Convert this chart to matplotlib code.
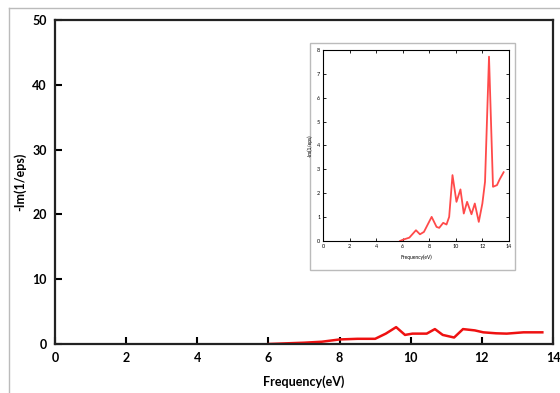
import numpy as np
import matplotlib.pyplot as plt
from matplotlib.lines import Line2D
from matplotlib.patches import Rectangle

# main curve: -Im(1/eps) vs frequency
freq_main = [6.0, 6.5, 7.0, 7.5, 8.0, 8.5, 9.0, 9.3, 9.59, 9.84, 10.05, 10.45, 10.68,
             10.9, 11.22, 11.47, 11.8, 12.04, 12.4, 12.7, 13.17, 13.7]
loss_main = [0.0, 0.1, 0.2, 0.35, 0.7, 0.8, 0.8, 1.6, 2.6, 1.4, 1.6, 1.6, 2.3,
             1.4, 1.0, 2.3, 2.1, 1.8, 1.65, 1.6, 1.8, 1.8]

# inset curve
freq_inset = [5.8, 6.0, 6.5, 7.0, 7.3, 7.6, 8.18, 8.55, 8.75, 9.05, 9.3, 9.5, 9.75,
              10.05, 10.35, 10.6, 10.85, 11.18, 11.43, 11.73, 12.0, 12.2, 12.5,
              12.8, 13.1, 13.3, 13.6]
loss_inset = [0.0, 0.05, 0.14, 0.45, 0.28, 0.38, 1.01, 0.59, 0.55, 0.76, 0.69, 1.01, 2.76,
              1.64, 2.16, 1.15, 1.64, 1.12, 1.57, 0.8, 1.57, 2.48, 7.72,
              2.27, 2.34, 2.58, 2.88]

main_xticks = [0, 2, 4, 6, 8, 10, 12, 14]
main_yticks = [0, 10, 20, 30, 40, 50]
inset_yticks = [0, 1, 2, 3, 4, 5, 6, 7, 8]

plt.rcParams['font.family'] = ['Lato', 'DejaVu Sans']

fig = plt.figure(figsize=(5.6, 3.93), dpi=100)

# ============================================================================
# main axes
# ============================================================================
ax = fig.add_axes([0.0982, 0.1247, 0.8893, 0.8244])
ax.plot(freq_main, loss_main, color='#ee1111', linewidth=1.8)
ax.set_xlim(0, 14)
ax.set_ylim(0, 50)
ax.set_xticks(main_xticks)
ax.set_yticks(main_yticks)
ax.tick_params(direction='in', length=5, width=1.5, labelsize=9, pad=6)
for lab in ax.get_xticklabels() + ax.get_yticklabels():
    lab.set_fontweight('bold')
for sp in ax.spines.values():
    sp.set_linewidth(1.6)
    sp.set_color('#222222')
ax.set_xlabel("Frequency(eV)", fontsize=9, fontweight='bold', labelpad=8)
ax.set_ylabel("-Im(1/eps)", fontsize=9, fontweight='bold', labelpad=4)

# ============================================================================
# inset frame + inset axes
# ============================================================================
fig.patches.append(Rectangle((0.5536, 0.313), 0.366, 0.578, transform=fig.transFigure,
                             facecolor='white', edgecolor='#bbbbbb', linewidth=1.0, zorder=3))

ax2 = fig.add_axes([0.5768, 0.3868, 0.332, 0.486], zorder=5)
ax2.plot(freq_inset, loss_inset, color='#ff4a4a', linewidth=1.3)
ax2.set_xlim(0, 14)
ax2.set_ylim(0, 8)
ax2.set_xticks(main_xticks)
ax2.set_yticks(inset_yticks)
ax2.tick_params(direction='in', length=2.5, width=0.6, labelsize=4, pad=2,
                top=True, right=True)
for sp in ax2.spines.values():
    sp.set_linewidth(0.8)
ax2.set_xlabel("Frequency(eV)", fontsize=3.5, labelpad=4)
ax2.set_ylabel("-Im(1/eps)", fontsize=3.5, labelpad=3)

# light page frame
fig.add_artist(Line2D([0.016, 0.016], [0.0, 0.98], color='#bbbbbb', linewidth=1.0,
                      transform=fig.transFigure))
fig.add_artist(Line2D([0.016, 1.0], [0.98, 0.98], color='#bbbbbb', linewidth=1.0,
                      transform=fig.transFigure))

fig.savefig("out.png", dpi=100)
